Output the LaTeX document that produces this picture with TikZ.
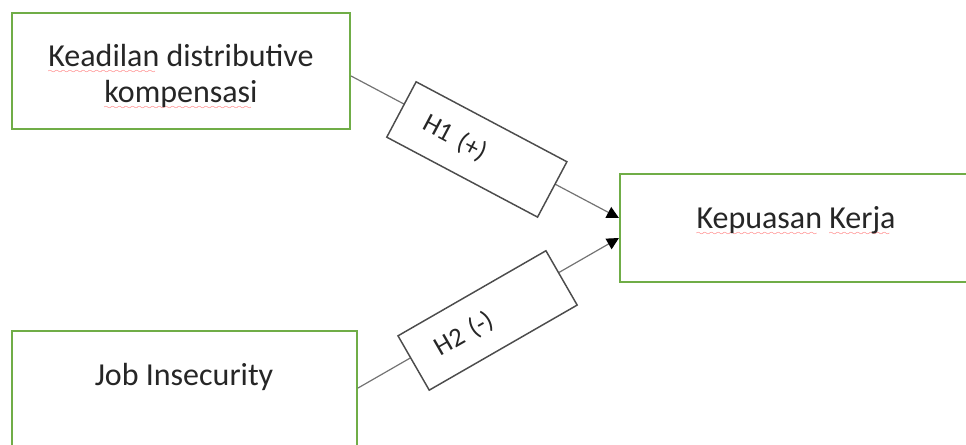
\documentclass[tikz,border=0pt]{standalone}
\usepackage{fontspec}
\setmainfont{Carlito}
\usepackage{xcolor}
\usepackage{tikz}
\usetikzlibrary{arrows.meta,positioning}
\definecolor{boxgreen}{RGB}{112,173,71}
\font\sixly=lasy6
\newcommand\spellwave[1]{\setbox0\hbox{#1}\rlap{\lower5pt\hbox to\wd0{\color{red!70}\leaders\hbox{\sixly\char58}\hfil}}\box0\relax}

\begin{document}
\begin{tikzpicture}[x=0.75pt,y=-0.75pt,
varbox/.style={draw=boxgreen,line width=1.6pt,fill=white},
vartext/.style={font=\fontsize{24}{27}\selectfont,text=black!85,align=center},
hypbox/.style={draw=black!70,line width=1.1pt,fill=white,sloped,yshift=-4.5pt,minimum width=128pt,minimum height=47pt,text width=88pt,inner xsep=20pt,align=left,font=\fontsize{20}{24}\selectfont,text=black!85},
link/.style={draw=black!55,line width=0.9pt,-{Triangle[length=9pt,width=9pt,color=black]}}]
\useasboundingbox(0,0)rectangle(966,445);
\clip(0,0)rectangle(966,445);
% variables
\node[varbox,minimum width=253.5pt,minimum height=87pt](keadilan)at(181,71){};
\node[vartext](keadilantext)at(181,77){\spellwave{Keadilan} distributive\\\spellwave{kompensasi}};
\node[varbox,minimum width=258.75pt,minimum height=105pt](job)at(184.5,401){};
\node[vartext](jobtext)at(184,377){Job Insecurity};
\node[varbox,minimum width=264pt,minimum height=81pt](kepuasan)at(796,228){};
\node[vartext](kepuasantext)at(796,221){\spellwave{Kepuasan} \spellwave{Kerja}};
% hypotheses
\draw[link]([yshift=-3.75pt]keadilan.east)--node[hypbox,pos=0.48]{H1 (+)}([yshift=7.5pt]kepuasan.west);
\draw[link]([yshift=9.75pt]job.east)--node[hypbox,pos=0.485]{H2 (-)}([yshift=-7.5pt]kepuasan.west);
\end{tikzpicture}
\end{document}
